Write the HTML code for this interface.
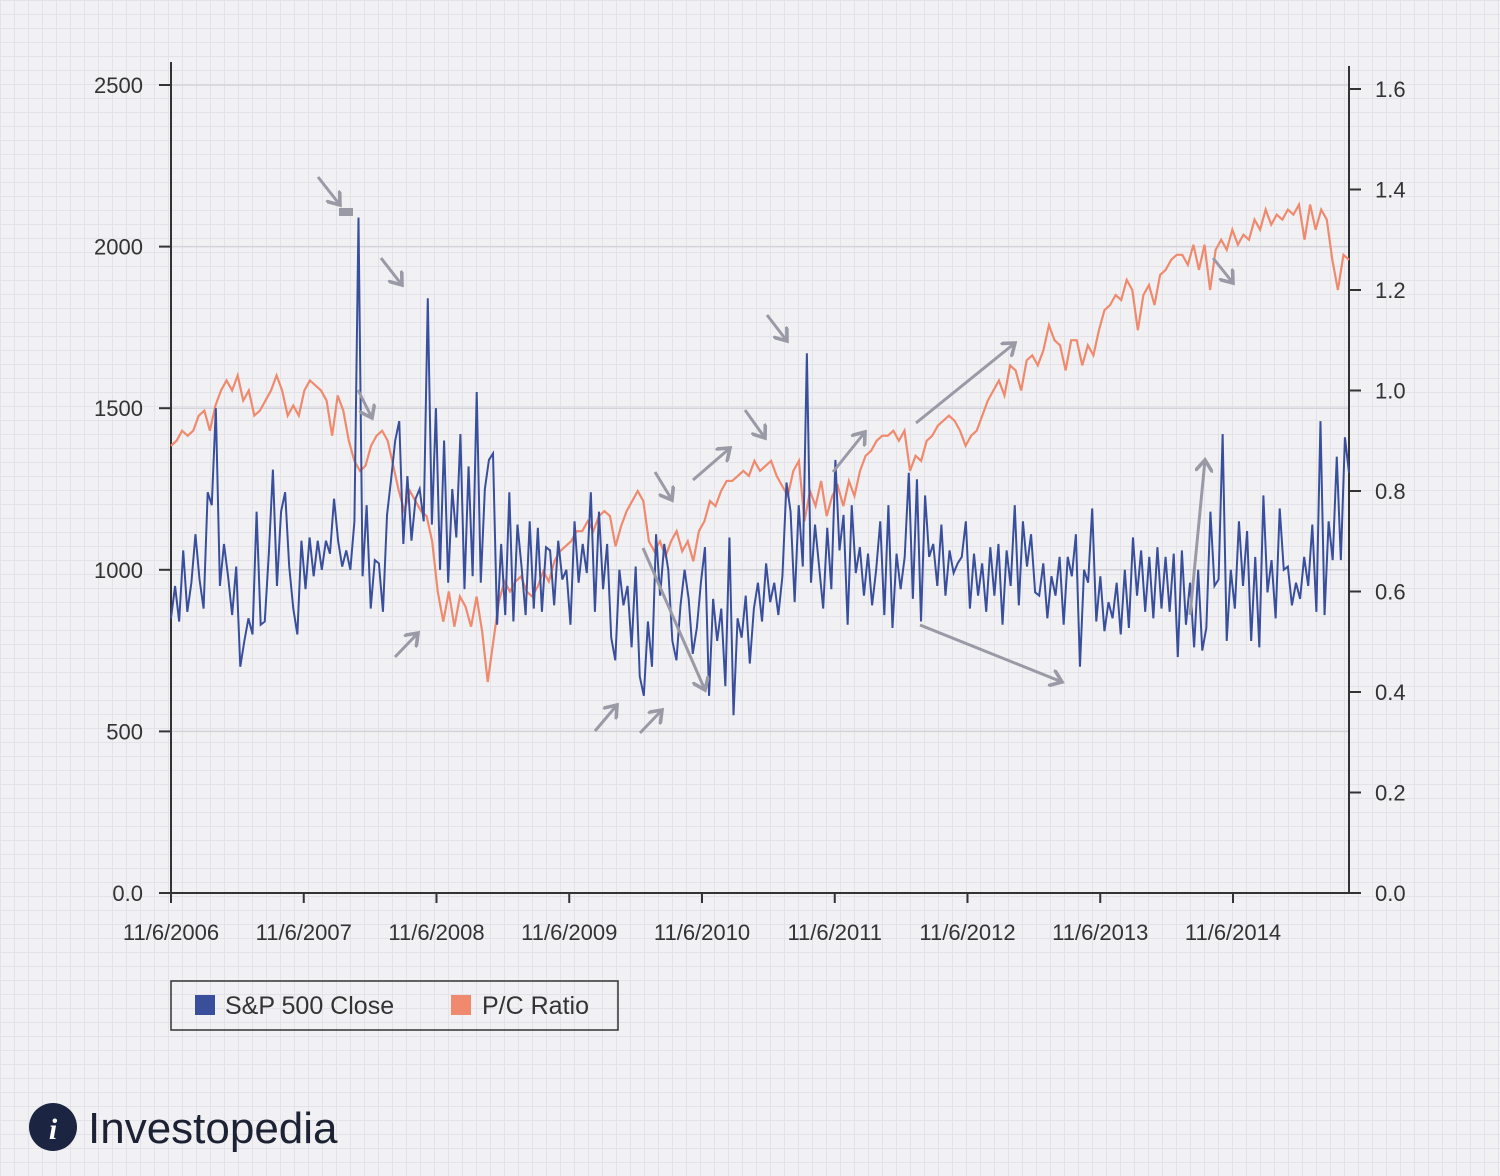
<!DOCTYPE html>
<html><head><meta charset="utf-8">
<style>
html,body{margin:0;padding:0;}
body{width:1500px;height:1176px;overflow:hidden;font-family:"Liberation Sans",sans-serif;
background-color:#f1f1f4;
background-image:linear-gradient(#e2e2e8 1px,transparent 1px),linear-gradient(90deg,#e2e2e8 1px,transparent 1px);
background-size:14px 14px;}
svg{position:absolute;left:0;top:0;}
</style></head>
<body>
<svg id="chart" width="1500" height="1176"></svg>
<script>
const xTickLabels=["11/6/2006","11/6/2007","11/6/2008","11/6/2009","11/6/2010","11/6/2011","11/6/2012","11/6/2013","11/6/2014"];
const leftTicks=[0,500,1000,1500,2000,2500];
const leftTickLabels=["0.0","500","1000","1500","2000","2500"];
const rightTicks=[0,0.2,0.4,0.6,0.8,1.0,1.2,1.4,1.6];
const spClose=[850,950,840,1060,870,960,1110,970,880,1240,1200,1500,950,1080,980,860,1010,700,
780,850,800,1180,830,840,1050,1310,950,1180,1240,1010,880,800,1090,
940,1100,980,1090,1000,1090,1050,1220,1090,1010,1060,1000,1150,2090,
980,1200,880,1030,1020,870,1170,1280,1400,1460,1080,1290,1090,1220,1250,1150,1840,
1140,1500,1000,1400,960,1250,1100,1420,940,1320,980,1550,960,1250,1340,1360,830,
1080,860,1240,840,1140,1010,860,1150,880,1130,870,1070,1060,890,1090,
970,1000,830,1150,960,1080,990,1240,870,1180,940,1080,790,720,
1000,890,950,760,1010,670,610,840,700,1110,920,1080,1000,780,720,890,1000,
910,740,820,960,1070,610,910,780,880,640,1100,550,
850,790,920,710,880,960,840,1020,900,960,860,980,1270,
1180,900,1200,1010,1670,960,1140,1010,880,1130,940,1340,1060,1170,830,
1200,990,1070,920,1050,890,1000,1150,860,1200,820,1050,940,1040,
1300,910,1280,840,1230,1040,1080,950,1140,920,1060,990,1020,1040,1150,
880,1050,920,1020,870,1070,920,1080,830,1060,950,1200,890,1150,1010,
1110,930,920,1020,850,980,920,1040,830,1040,980,1110,700,1000,960,1190,
840,980,810,900,850,960,800,1000,820,1100,920,1060,870,1040,850,
1070,880,1040,870,1050,730,1060,830,960,760,1000,750,820,1180,950,
970,1420,780,1000,880,1150,950,1120,780,1040,760,1230,930,1030,850,
1190,1000,1010,890,960,910,1040,950,1140,870,1460,860,1150,1030,1350,1030,1410,1300];
const pcRatio=[0.89,0.90,0.92,0.91,0.92,0.95,0.96,0.92,0.97,1.0,1.02,1.0,1.03,0.98,1.0,0.95,0.96,0.98,1.0,1.03,1.0,0.95,0.97,0.95,1.0,1.02,1.01,1.0,
0.98,0.91,0.99,0.96,0.9,0.86,0.84,0.85,0.89,0.91,0.92,0.9,0.85,0.8,0.76,0.80,0.78,0.76,0.75,0.70,0.6,
0.54,0.6,0.53,0.59,0.57,0.53,0.59,0.52,0.42,0.5,0.58,0.62,0.60,0.62,0.63,0.60,0.59,0.61,0.64,0.62,0.66,0.68,0.69,0.70,0.72,0.72,0.74,0.72,0.75,0.76,0.75,
0.69,0.73,0.76,0.78,0.80,0.78,0.70,0.68,0.70,0.67,0.70,0.72,0.68,0.70,0.66,0.72,0.74,0.78,0.77,0.80,0.82,0.82,0.83,0.84,0.83,0.86,0.84,0.85,0.86,0.83,0.81,0.79,0.84,
0.86,0.74,0.80,0.77,0.82,0.75,0.79,0.81,0.77,0.82,0.79,0.84,0.87,0.88,0.90,0.91,0.91,0.92,0.90,0.92,0.84,0.87,0.86,0.90,0.91,0.93,0.94,0.95,0.94,0.92,0.89,0.91,0.92,0.95,0.98,1.0,1.02,0.99,1.05,1.04,1.00,
1.06,1.07,1.05,1.08,1.13,1.10,1.09,1.04,1.10,1.10,1.05,1.09,1.07,1.12,1.16,1.17,1.19,1.18,1.22,1.20,1.12,1.19,1.21,1.17,1.23,1.24,1.26,1.27,1.27,1.25,1.29,1.24,1.29,1.20,
1.28,1.30,1.28,1.32,1.29,1.31,1.30,1.34,1.32,1.36,1.33,1.35,1.34,1.36,1.35,1.37,1.30,1.37,1.32,1.36,1.34,1.26,1.20,1.27,1.26];

const NS="http://www.w3.org/2000/svg";
const svg=document.getElementById('chart');
const X0=171,X1=1349,Y0=893;
const yL=v=>Y0-v*(808/2500);
const yR=v=>Y0-v*502.5;
const xTick=i=>171+i*132.75;
const xIdx=(i,n)=>X0+i*(X1-X0)/(n-1);
function mk(tag,attrs,name,parent){const e=document.createElementNS(NS,tag);for(const k in attrs)e.setAttribute(k,attrs[k]);


(parent||svg).appendChild(e);return e;}
function txt(x,y,s,anchor,size,name,fill){const t=mk('text',{x:x,y:y,'text-anchor':anchor,'font-size':size,fill:fill||'#333','font-family':'Liberation Sans, sans-serif'},name);t.textContent=s;return t;}

leftTicks.forEach((v,i)=>{
 if(v>0) mk('line',{x1:X0,x2:X1,y1:yL(v),y2:yL(v),stroke:'#d3d3da','stroke-width':1.5},'gridline-'+v);
 mk('line',{x1:X0-12,x2:X0,y1:yL(v),y2:yL(v),stroke:'#333','stroke-width':2},'left-tick-'+v);
 txt(143,yL(v)+8,leftTickLabels[i],'end',22,'left-tick-label');
});
rightTicks.forEach(v=>{
 mk('line',{x1:X1,x2:X1+12,y1:yR(v),y2:yR(v),stroke:'#333','stroke-width':2},'right-tick');
 txt(1375,yR(v)+8,v.toFixed(1),'start',22,'right-tick-label');
});
xTickLabels.forEach((s,i)=>{
 mk('line',{x1:xTick(i),x2:xTick(i),y1:Y0,y2:Y0+10,stroke:'#333','stroke-width':2},'x-tick');
 txt(xTick(i),940,s,'middle',22,'x-tick-label');
});
mk('line',{x1:X0,x2:X0,y1:62,y2:Y0,stroke:'#333','stroke-width':2},'left-axis');
mk('line',{x1:X1,x2:X1,y1:66,y2:Y0,stroke:'#333','stroke-width':2},'right-axis');
mk('line',{x1:X0,x2:X1+12,y1:Y0,y2:Y0,stroke:'#333','stroke-width':2},'x-axis');

mk('polyline',{points:pcRatio.map((v,i)=>xIdx(i,pcRatio.length)+','+yR(v)).join(' '),fill:'none',stroke:'#ef8a6e','stroke-width':2.2},'pc-ratio-line');
mk('polyline',{points:spClose.map((v,i)=>xIdx(i,spClose.length)+','+yL(v)).join(' '),fill:'none',stroke:'#3a4f9c','stroke-width':2},'sp500-line');

const defs=mk('defs',{},'defs');
const m=mk('marker',{id:'ah',markerWidth:6,markerHeight:6,refX:4,refY:3,orient:'auto'},'arrowhead',defs);
mk('path',{d:'M0,0 L4,3 L0,6',fill:'none',stroke:'#9a9aa6','stroke-width':1.2},'arrowhead-path',m);
const arrows=[[318,177,340,205],[381,258,402,285],[358,390,372,418],[395,657,418,633],[595,731,617,705],[640,733,662,710],[655,472,672,500],[693,480,730,448],[745,410,765,438],[767,315,787,341],[643,548,705,690],[833,472,865,432],[916,423,1015,343],[920,625,1062,682],[1190,615,1205,460],[1213,258,1233,283]];
arrows.forEach(a=>mk('line',{x1:a[0],y1:a[1],x2:a[2],y2:a[3],stroke:'#9a9aa6','stroke-width':3,'marker-end':'url(#ah)'},'annotation-arrow'));
mk('rect',{x:339,y:208,width:14,height:8,fill:'#9a9aa6'},'annotation-marker');

mk('rect',{x:171,y:981,width:447,height:49,fill:'none',stroke:'#333','stroke-width':1.5},'legend-box');
mk('rect',{x:195,y:995,width:20,height:20,fill:'#3a4f9c'},'legend-swatch-sp500');
txt(225,1014,'S&P 500 Close','start',25,'legend-label-sp500');
mk('rect',{x:451,y:995,width:20,height:20,fill:'#f08a6e'},'legend-swatch-pc');
txt(482,1014,'P/C Ratio','start',25,'legend-label-pc');

mk('circle',{cx:53,cy:1127,r:24,fill:'#1b2440'},'logo-icon');
mk('text',{x:53,y:1139,'text-anchor':'middle','font-size':30,'font-weight':'bold',fill:'#fff','font-family':'Liberation Serif, serif','font-style':'italic'},'logo-glyph').textContent='i';
txt(88,1143,'Investopedia','start',44,'logo-text','#1c2233');
</script>
</body></html>
